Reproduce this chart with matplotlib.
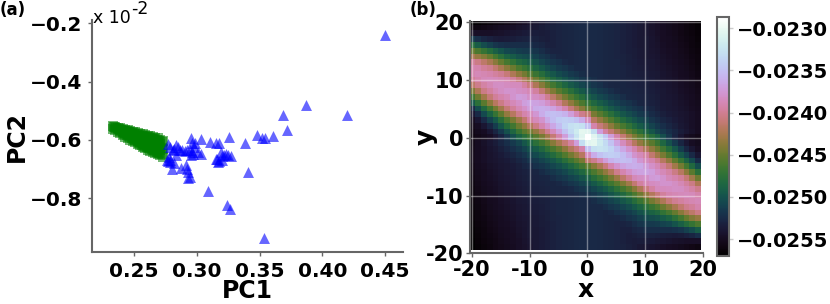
import numpy as np
import matplotlib
matplotlib.use("Agg")
from matplotlib import pyplot as plt

W, H = 830.0, 304.0
GREY = "#666666"

# scatter, y in units of 1e-2
blue_x = [.45, .4195, .387, .369, .3716, .348, .352, .3547, .361, .3387, .3406, .326, .3037, .295, .3105,
          .3156, .3175, .3196, .3236, .325, .316, .318, .3037, .2965, .2983, .309, .3244, .3265, .3538,
          .2944, .293, .291, .2877, .28, .277, .2785, .282, .277, .2837, .281, .2863, .2904, .2837, .2944, .297,
          .279, .282, .285, .288, .292, .278, .276, .279, .292, .293, .296, .298, .301, .295, .315, .32, .32, .317, .322, .327]
blue_y = [-.24, -.514, -.48, -.514, -.566, -.583, -.592, -.594, -.586, -.609, -.709, -.59, -.598, -.594, -.608,
          -.611, -.611, -.64, -.649, -.651, -.666, -.671, -.648, -.64, -.611, -.775, -.823, -.838, -.937,
          -.726, -.709, -.686, -.697, -.699, -.671, -.669, -.68, -.614, -.617, -.634, -.634, -.637, -.651, -.634, -.648,
          -.625, -.63, -.625, -.635, -.635, -.66, -.668, -.675, -.7, -.73, -.61, -.625, -.64, -.65, -.665, -.655, -.67, -.675, -.65, -.655]
green_x = [.233, .233, .235, .235, .237, .237, .239, .239, .239, .241, .241, .241, .243, .243, .243,
           .245, .245, .245, .247, .247, .247, .249, .249, .249, .251, .251, .251, .251, .253, .253, .253, .253,
           .255, .255, .255, .255, .257, .257, .257, .257, .259, .259, .259, .259, .261, .261, .261, .261,
           .263, .263, .263, .263, .265, .265, .265, .265, .267, .267, .267, .267, .269, .269, .269, .269,
           .271, .271, .271, .271, .273, .273, .273,
           .234, .236, .238, .24, .242, .242, .244, .244, .246, .246, .248, .248, .25, .25, .252, .252, .254, .254, .254,
           .256, .256, .256, .258, .258, .258, .26, .26, .26, .262, .262, .262, .264, .264, .264, .266, .266, .266,
           .268, .268, .268, .27, .27, .27, .272, .272, .272]
green_y = [-.553, -.562, -.555, -.567, -.558, -.572, -.56, -.57, -.577, -.562, -.573, -.583, -.565, -.577, -.589,
           -.567, -.58, -.594, -.57, -.583, -.599, -.572, -.586, -.603, -.574, -.588, -.6, -.608, -.577, -.59, -.603, -.613,
           -.578, -.592, -.606, -.618, -.581, -.595, -.61, -.623, -.583, -.597, -.613, -.628, -.586, -.6, -.616, -.633,
           -.587, -.602, -.62, -.638, -.59, -.605, -.624, -.641, -.592, -.608, -.628, -.645, -.595, -.612, -.632, -.648,
           -.599, -.615, -.635, -.652, -.604, -.63, -.658,
           -.557, -.56, -.563, -.566, -.568, -.578, -.571, -.583, -.574, -.588, -.577, -.592, -.58, -.596, -.582, -.598, -.585, -.6, -.612,
           -.587, -.603, -.616, -.589, -.605, -.62, -.591, -.607, -.624, -.594, -.61, -.628, -.596, -.613, -.632, -.598, -.617, -.636,
           -.6, -.62, -.64, -.603, -.623, -.644, -.606, -.626, -.648]

# heat map rows y=20..0, x=-20..20, minus value in units of 1e-5
row_20 = [2568,2566,2564,2562,2560,2558,2556,2553,2550,2547,2544,2541,2538,2535,2533,2531,2529,2528,2527,2526,2525,2525,2526,2527,2528,2530,2532,2534,2536,2538,2541,2544,2547,2550,2552,2554,2557,2560,2563,2566,2570]
row_19 = [2560,2558,2556,2554,2552,2550,2548,2546,2544,2542,2540,2538,2535,2533,2531,2530,2528,2527,2526,2525,2525,2525,2526,2527,2528,2530,2532,2534,2536,2538,2541,2544,2546,2549,2552,2554,2556,2559,2562,2565,2569]
row_18 = [2545,2546,2546,2546,2545,2544,2542,2540,2538,2536,2535,2534,2535,2534,2532,2530,2528,2527,2526,2525,2525,2525,2526,2527,2528,2530,2532,2534,2536,2538,2540,2543,2546,2548,2551,2553,2556,2558,2561,2564,2568]
row_17 = [2515,2522,2528,2532,2535,2536,2535,2534,2532,2531,2530,2531,2533,2534,2532,2530,2528,2527,2526,2525,2525,2525,2526,2527,2528,2530,2532,2534,2536,2538,2539,2542,2545,2548,2550,2552,2555,2557,2560,2563,2567]
row_16 = [2480,2492,2503,2511,2517,2521,2523,2523,2523,2523,2523,2526,2529,2532,2532,2530,2528,2527,2526,2525,2525,2525,2526,2527,2528,2530,2532,2534,2536,2538,2539,2542,2544,2547,2549,2551,2554,2556,2559,2562,2566]
row_15 = [2450,2460,2470,2480,2490,2499,2506,2510,2513,2515,2515,2519,2523,2527,2530,2530,2528,2527,2526,2525,2525,2525,2526,2527,2528,2530,2532,2534,2535,2537,2538,2541,2543,2546,2548,2550,2553,2555,2558,2561,2565]
row_14 = [2425,2432,2440,2450,2463,2476,2486,2493,2500,2503,2505,2511,2516,2520,2524,2527,2528,2527,2526,2525,2525,2525,2526,2527,2528,2530,2531,2533,2535,2537,2538,2540,2542,2545,2547,2549,2552,2554,2557,2560,2564]
row_13 = [2398,2405,2415,2425,2437,2450,2462,2472,2482,2488,2493,2500,2507,2513,2517,2521,2525,2527,2526,2525,2525,2525,2526,2527,2528,2529,2531,2533,2534,2536,2537,2539,2541,2544,2546,2548,2551,2553,2556,2559,2563]
row_12 = [2390,2392,2398,2403,2413,2425,2437,2448,2460,2469,2477,2486,2495,2503,2509,2514,2518,2522,2525,2525,2525,2525,2526,2527,2528,2529,2530,2532,2534,2535,2536,2538,2540,2543,2545,2547,2550,2552,2555,2558,2562]
row_11 = [2390,2387,2389,2392,2396,2400,2409,2422,2435,2445,2457,2468,2479,2490,2497,2504,2510,2515,2519,2523,2525,2525,2526,2527,2528,2529,2530,2532,2533,2534,2535,2537,2539,2542,2544,2546,2549,2551,2554,2557,2561]
row_10 = [2398,2392,2386,2385,2386,2388,2390,2397,2408,2420,2434,2447,2460,2472,2482,2491,2499,2506,2511,2516,2520,2523,2526,2527,2528,2529,2530,2531,2532,2533,2534,2536,2538,2541,2543,2545,2548,2550,2553,2556,2560]
row_09 = [2415,2403,2394,2388,2383,2382,2384,2385,2385,2395,2407,2422,2438,2452,2463,2474,2485,2494,2501,2507,2513,2517,2521,2525,2527,2528,2529,2530,2531,2532,2533,2535,2537,2540,2542,2544,2547,2549,2552,2555,2559]
row_08 = [2440,2422,2405,2396,2388,2383,2378,2378,2382,2384,2388,2396,2411,2428,2441,2454,2466,2477,2487,2495,2503,2509,2514,2518,2522,2526,2528,2529,2530,2531,2532,2534,2536,2539,2541,2543,2546,2548,2551,2554,2558]
row_07 = [2466,2447,2428,2410,2398,2392,2387,2378,2372,2374,2380,2383,2387,2400,2415,2430,2445,2458,2469,2479,2490,2498,2505,2510,2515,2519,2523,2527,2529,2530,2531,2533,2535,2538,2540,2542,2545,2547,2550,2553,2557]
row_06 = [2495,2475,2455,2436,2418,2405,2394,2387,2380,2370,2367,2368,2372,2380,2390,2403,2420,2435,2448,2460,2472,2483,2492,2499,2506,2512,2516,2520,2524,2528,2530,2532,2534,2537,2539,2541,2544,2546,2549,2552,2556]
row_05 = [2525,2503,2482,2463,2445,2428,2410,2398,2388,2380,2372,2363,2360,2363,2368,2378,2390,2408,2424,2438,2452,2464,2475,2485,2494,2502,2508,2513,2517,2521,2525,2529,2533,2536,2538,2540,2543,2545,2548,2551,2555]
row_04 = [2540,2525,2505,2488,2470,2452,2434,2418,2402,2392,2385,2376,2362,2353,2351,2353,2358,2372,2388,2402,2412,2443,2455,2466,2477,2488,2496,2503,2509,2515,2518,2524,2528,2533,2536,2538,2541,2543,2546,2549,2553]
row_03 = [2550,2540,2525,2510,2495,2477,2459,2443,2428,2412,2395,2386,2378,2363,2352,2343,2341,2343,2350,2362,2385,2418,2432,2445,2458,2470,2481,2490,2498,2505,2510,2517,2523,2528,2532,2536,2540,2543,2546,2549,2553]
row_02 = [2553,2548,2540,2528,2513,2497,2480,2464,2448,2435,2420,2405,2390,2378,2365,2352,2337,2329,2325,2328,2350,2392,2408,2420,2436,2450,2461,2472,2483,2493,2500,2509,2516,2522,2527,2533,2538,2542,2546,2550,2554]
row_01 = [2556,2552,2548,2540,2528,2515,2500,2484,2468,2455,2445,2433,2418,2400,2385,2368,2348,2332,2318,2303,2305,2330,2370,2395,2410,2425,2438,2452,2464,2476,2486,2497,2507,2515,2522,2529,2535,2540,2545,2550,2555]
row_00 = [2558,2555,2552,2548,2540,2530,2516,2502,2488,2477,2467,2456,2443,2428,2410,2393,2372,2345,2325,2305,2288,2305,2325,2345,2372,2393,2410,2428,2443,2456,2467,2477,2488,2502,2516,2530,2540,2548,2552,2555,2558]

xticks = [.25, .30, .35, .40, .45]
yticks = [-.8, -.6, -.4, -.2]
map_ticks = [-20, -10, 0, 10, 20]
cbar_ticks = [-.0255, -.0250, -.0245, -.0240, -.0235, -.0230]

plt.rcParams["font.family"] = "DejaVu Sans"
plt.rcParams["font.weight"] = "bold"
plt.rcParams["axes.labelweight"] = "bold"


def box(x0, x1, y0, y1):
    # pixel box to figure fractions
    return [x0 / W, 1 - y1 / H, (x1 - x0) / W, (y1 - y0) / H]


fig = plt.figure(figsize=(8.3, 3.04), dpi=100)

ax = fig.add_axes(box(92, 403, 20, 252))
ax.scatter(green_x, green_y, marker="s", s=60, color="g", alpha=0.55, linewidths=0)
ax.scatter(blue_x, blue_y, marker="^", s=62, color="b", alpha=0.6, linewidths=0)
ax.set_xlim(0.2165, 0.4643)
ax.set_ylim(-0.984, -0.189)
ax.set_xticks(xticks)
ax.set_xticklabels(["%.2f" % t for t in xticks])
ax.set_yticks(yticks)
ax.set_yticklabels(["\u2212%.1f" % abs(t) for t in yticks])
ax.tick_params(labelsize=14.5, color=GREY, length=3, width=1, pad=4)
for s in ["top", "right"]:
    ax.spines[s].set_visible(False)
for s in ["left", "bottom"]:
    ax.spines[s].set_color(GREY)
    ax.spines[s].set_linewidth(1.5)
ax.set_xlabel("PC1", fontsize=17, labelpad=-1)
ax.set_ylabel("PC2", fontsize=17, labelpad=1)
fig.text(93 / W, 1 - 23 / H, "x 10", fontsize=12.5, fontweight="medium", va="baseline")
fig.text(131 / W, 1 - 14 / H, "-2", fontsize=12.5, fontweight="medium", va="baseline")
fig.text(0 / W, 1 - 15 / H, "(a)", fontsize=12)

top = np.array([row_20, row_19, row_18, row_17, row_16, row_15, row_14, row_13, row_12, row_11, row_10,
                row_09, row_08, row_07, row_06, row_05, row_04, row_03, row_02, row_01, row_00])
z = np.vstack([top, top[-2::-1, ::-1]])[:40, :40] / -1e5

ax2 = fig.add_axes(box(469.5, 702.7, 20.7, 253.3))
im = ax2.imshow(z, cmap="cubehelix", vmin=-0.0257, vmax=-0.02287, extent=[-20.5, 19.5, -19.5, 20.5],
                aspect="auto", interpolation="nearest")
ax2.set_xlim(-20.4, 20)
ax2.set_ylim(-20, 20.3)
ax2.set_xticks(map_ticks)
ax2.set_xticklabels([str(t) for t in map_ticks])
ax2.set_yticks(map_ticks)
ax2.set_yticklabels([str(t) for t in map_ticks])
ax2.grid(color="white", alpha=0.4, linewidth=1)
ax2.tick_params(labelsize=15, color=GREY, length=3, width=1, pad=1.5)
for s in ["top", "right"]:
    ax2.spines[s].set_visible(False)
for s in ["left", "bottom"]:
    ax2.spines[s].set_color(GREY)
    ax2.spines[s].set_linewidth(1.5)
ax2.set_xlabel("x", fontsize=18, labelpad=-1)
ax2.set_ylabel("y", fontsize=18, labelpad=-9)
fig.text(410 / W, 1 - 15 / H, "(b)", fontsize=12)

cax = fig.add_axes(box(717, 729, 17.3, 256))
cb = fig.colorbar(im, cax=cax)
cb.set_ticks(cbar_ticks)
cb.set_ticklabels(["\u2212%.4f" % abs(t) for t in cbar_ticks])
cb.ax.tick_params(labelsize=14, color="#cccccc", length=3, width=1, pad=3)
cb.outline.set_edgecolor(GREY)
cb.outline.set_linewidth(1.5)

fig.savefig("out.png", dpi=100)
